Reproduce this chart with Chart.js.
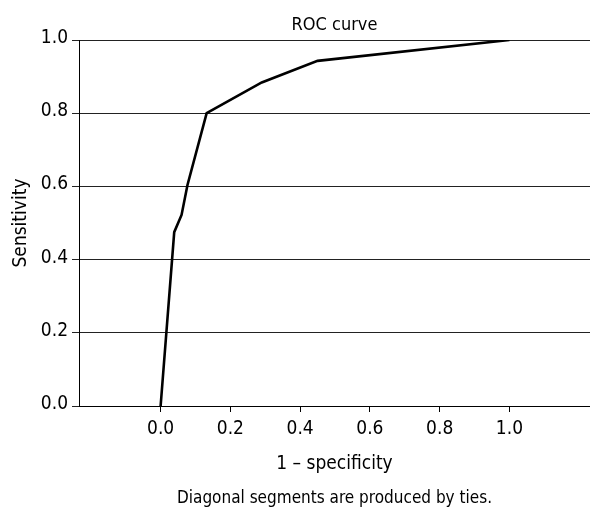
<!DOCTYPE html>
<html>
<head>
<meta charset="utf-8">
<script src="https://cdn.jsdelivr.net/npm/chart.js@4.4.1/dist/chart.umd.min.js"></script>
<style>
  html, body { margin: 0; padding: 0; background: #fff; }
  #wrap { width: 590px; height: 509px; position: relative; }
</style>
</head>
<body>
<div id="wrap"><canvas id="roc"></canvas></div>
<script>
// ROC points
var fpr = [0, 0.039, 0.060, 0.077, 0.132, 0.290, 0.450, 1.0];
var tpr = [0, 0.475, 0.522, 0.604, 0.800, 0.884, 0.943, 1.0];
var xTickValues = [0, 0.2, 0.4, 0.6, 0.8, 1.0];
var yTickValues = [0, 0.2, 0.4, 0.6, 0.8, 1.0];

var FONT = "'Liberation Sans Narrow', 'DejaVu Sans Condensed', sans-serif";
Chart.defaults.font.family = FONT;
Chart.defaults.font.size = 19;
Chart.defaults.color = '#000';

var points = fpr.map(function (x, i) { return { x: x, y: tpr[i] }; });

new Chart(document.getElementById('roc'), {
    type: 'line',
    data: {
        datasets: [{
            data: points,
            borderColor: '#000',
            borderWidth: 2.6,
            pointRadius: 0,
            tension: 0,
            fill: false
        }]
    },
    options: {
        responsive: true,
        maintainAspectRatio: false,
        animation: false,
        layout: { padding: 0 },
        plugins: {
            legend: { display: false },
            tooltip: { enabled: false },
            title: {
                display: true,
                fullSize: false,
                text: 'ROC curve',
                font: { size: 18, weight: 'normal' },
                color: '#000',
                padding: { top: 14.7, bottom: 3.7 }
            },
            subtitle: {
                display: true,
                fullSize: false,
                position: 'bottom',
                text: 'Diagonal segments are produced by ties.',
                font: { size: 17, weight: 'normal' },
                color: '#000',
                padding: { top: 6, bottom: 0 }
            }
        },
        scales: {
            x: {
                type: 'linear',
                min: -0.234,
                max: 1.231,
                afterBuildTicks: function (scale) {
                    scale.ticks = xTickValues.map(function (v) { return { value: v }; });
                },
                afterFit: function (scale) { scale.height = 76.6; },
                ticks: {
                    padding: 5.7,
                    maxRotation: 0,
                    callback: function (v) { return v.toFixed(1); }
                },
                grid: {
                    drawOnChartArea: false,
                    drawTicks: true,
                    tickLength: 6,
                    color: '#000'
                },
                border: { display: true, color: '#000', width: 1 },
                title: {
                    display: true,
                    text: '1 \u2013 specificity',
                    font: { size: 19 },
                    padding: { top: 0, bottom: 7.1 }
                }
            },
            y: {
                min: 0,
                max: 1,
                afterBuildTicks: function (scale) {
                    scale.ticks = yTickValues.map(function (v) { return { value: v }; });
                },
                afterFit: function (scale) { scale.width = 79; },
                ticks: {
                    padding: 4,
                    labelOffset: -2,
                    callback: function (v) { return v.toFixed(1); }
                },
                grid: {
                    color: '#222',
                    lineWidth: 1,
                    drawTicks: true,
                    tickLength: 7
                },
                border: { display: true, color: '#000', width: 1 },
                title: {
                    display: true,
                    text: 'Sensitivity',
                    font: { size: 19 },
                    padding: { top: 9.7, bottom: 0 }
                }
            }
        }
    }
});
</script>
</body>
</html>
